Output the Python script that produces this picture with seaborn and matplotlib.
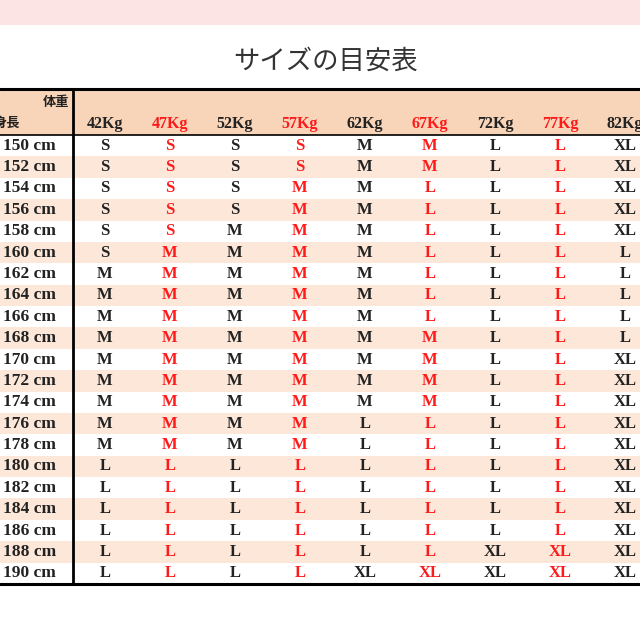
import matplotlib
matplotlib.use('Agg')
import matplotlib.pyplot as plt
import seaborn as sns
import numpy as np
import pandas as pd
from matplotlib.colors import ListedColormap
from matplotlib.lines import Line2D
from matplotlib.patches import Rectangle

# ---------------- data ----------------
title = 'サイズの目安表'
weight_header = '体重'
height_header = '身長'
heights = ['150 cm', '152 cm', '154 cm', '156 cm', '158 cm', '160 cm', '162 cm',
           '164 cm', '166 cm', '168 cm', '170 cm', '172 cm', '174 cm', '176 cm',
           '178 cm', '180 cm', '182 cm', '184 cm', '186 cm', '188 cm', '190 cm']
weights = ['42Kg', '47Kg', '52Kg', '57Kg', '62Kg', '67Kg', '72Kg', '77Kg', '82Kg']
red_weights = ['47Kg', '57Kg', '67Kg', '77Kg']
sizes = [
    ['S', 'S', 'S', 'S', 'M', 'M', 'L', 'L', 'XL'],   # 150
    ['S', 'S', 'S', 'S', 'M', 'M', 'L', 'L', 'XL'],   # 152
    ['S', 'S', 'S', 'M', 'M', 'L', 'L', 'L', 'XL'],   # 154
    ['S', 'S', 'S', 'M', 'M', 'L', 'L', 'L', 'XL'],   # 156
    ['S', 'S', 'M', 'M', 'M', 'L', 'L', 'L', 'XL'],   # 158
    ['S', 'M', 'M', 'M', 'M', 'L', 'L', 'L', 'L'],    # 160
    ['M', 'M', 'M', 'M', 'M', 'L', 'L', 'L', 'L'],    # 162
    ['M', 'M', 'M', 'M', 'M', 'L', 'L', 'L', 'L'],    # 164
    ['M', 'M', 'M', 'M', 'M', 'L', 'L', 'L', 'L'],    # 166
    ['M', 'M', 'M', 'M', 'M', 'M', 'L', 'L', 'L'],    # 168
    ['M', 'M', 'M', 'M', 'M', 'M', 'L', 'L', 'XL'],   # 170
    ['M', 'M', 'M', 'M', 'M', 'M', 'L', 'L', 'XL'],   # 172
    ['M', 'M', 'M', 'M', 'M', 'M', 'L', 'L', 'XL'],   # 174
    ['M', 'M', 'M', 'M', 'L', 'L', 'L', 'L', 'XL'],   # 176
    ['M', 'M', 'M', 'M', 'L', 'L', 'L', 'L', 'XL'],   # 178
    ['L', 'L', 'L', 'L', 'L', 'L', 'L', 'L', 'XL'],   # 180
    ['L', 'L', 'L', 'L', 'L', 'L', 'L', 'L', 'XL'],   # 182
    ['L', 'L', 'L', 'L', 'L', 'L', 'L', 'L', 'XL'],   # 184
    ['L', 'L', 'L', 'L', 'L', 'L', 'L', 'L', 'XL'],   # 186
    ['L', 'L', 'L', 'L', 'L', 'L', 'XL', 'XL', 'XL'], # 188
    ['L', 'L', 'L', 'L', 'XL', 'XL', 'XL', 'XL', 'XL'],  # 190
]

# ---------------- style ----------------
sns.set_theme(style='white')
plt.rcParams['font.family'] = ['Liberation Serif', 'Noto Sans CJK JP', 'DejaVu Sans']

BLACK = '#222222'
RED = '#ff1a1a'
PEACH = '#f8d5b9'
STRIPE = '#fce7d9'
PINK = '#fde4e4'

W = H = 640
fig = plt.figure(figsize=(6.4, 6.4), dpi=100)
fig.patch.set_facecolor('white')


def fx(px):
    return px / W


def fy(py):
    return 1 - py / H


# pink band at top
fig.patches.append(Rectangle((0, fy(25)), 1, 25 / H, transform=fig.transFigure,
                             facecolor=PINK, edgecolor='none', zorder=0))

fig.text(fx(326), fy(61), title, ha='center', va='center', fontsize=19,
         color='#333333', family=['Noto Sans CJK JP', 'DejaVu Sans'])

# table geometry (pixels)
top, hdr, bot = 89, 135, 584
xsplit, colw, lab_left = 72.5, 65, -8
n_rows, n_cols = len(heights), len(weights)

df = pd.DataFrame(sizes, index=heights, columns=weights)
shade = pd.DataFrame([[i % 2] * n_cols for i in range(n_rows)], index=heights, columns=weights)
cmap = ListedColormap(['white', STRIPE])

# data cells
ax = fig.add_axes([fx(xsplit), fy(bot), fx(colw * n_cols), (bot - hdr) / H])
sns.heatmap(shade, ax=ax, cmap=cmap, vmin=0, vmax=1, cbar=False,
            annot=df.values, fmt='', xticklabels=False, yticklabels=False,
            annot_kws=dict(fontsize=12, fontweight='bold'))
for t in ax.texts:
    col = int(t.get_position()[0])
    t.set_color(RED if weights[col] in red_weights else BLACK)

# row label column
ax_l = fig.add_axes([fx(lab_left), fy(bot), fx(xsplit - lab_left), (bot - hdr) / H])
lab_shade = shade.iloc[:, :1]
sns.heatmap(lab_shade, ax=ax_l, cmap=cmap, vmin=0, vmax=1, cbar=False,
            annot=np.array(heights).reshape(-1, 1), fmt='',
            xticklabels=False, yticklabels=False,
            annot_kws=dict(fontsize=12.5, fontweight='bold', color=BLACK))
for t in ax_l.texts:
    t.set_color(BLACK)
    t.set_x(t.get_position()[0] - 0.03)

# header
ax_h = fig.add_axes([fx(lab_left), fy(hdr), fx(xsplit + colw * n_cols - lab_left), (hdr - top) / H])
ax_h.set_facecolor(PEACH)
ax_h.set_xlim(lab_left, xsplit + colw * n_cols)
ax_h.set_ylim(hdr, top)
ax_h.set_xticks([])
ax_h.set_yticks([])
for s in ax_h.spines.values():
    s.set_visible(False)
for i, w in enumerate(weights):
    ax_h.text(xsplit + colw * (i + 0.5), 124, w, ha='center', va='center',
              fontsize=11.5, fontweight='bold',
              color=RED if w in red_weights else BLACK)
ax_h.text(69, 102, weight_header, ha='right', va='center', fontsize=9.5,
          fontweight='bold', color=BLACK, family=['Noto Sans CJK JP'])
ax_h.text(-6, 123, height_header, ha='left', va='center', fontsize=9.5,
          fontweight='bold', color=BLACK, family=['Noto Sans CJK JP'])

# rules
fig.add_artist(Line2D([0, 1], [fy(top), fy(top)], lw=2.2, color='black', transform=fig.transFigure))
fig.add_artist(Line2D([0, 1], [fy(hdr), fy(hdr)], lw=1.2, color='black', transform=fig.transFigure))
fig.add_artist(Line2D([0, 1], [fy(bot), fy(bot)], lw=2.2, color='black', transform=fig.transFigure))
fig.add_artist(Line2D([fx(xsplit), fx(xsplit)], [fy(top), fy(bot)], lw=2.0, color='black',
                      transform=fig.transFigure))

fig.savefig('out.png', dpi=100)
